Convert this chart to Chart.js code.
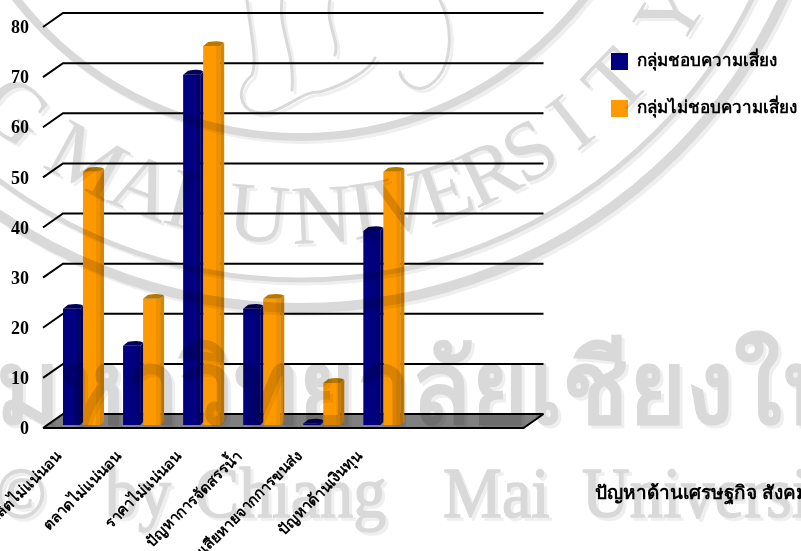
<!DOCTYPE html>
<html><head><meta charset="utf-8">
<script src="https://cdn.jsdelivr.net/npm/chart.js@4"></script>
<style>html,body{margin:0;padding:0;background:#fff;overflow:hidden}canvas{display:block}</style>
</head><body>
<canvas id="c" width="801" height="551"></canvas>
<script>
const categories = ["ผลผลิตไม่แน่นอน","ตลาดไม่แน่นอน","ราคาไม่แน่นอน","ปัญหาการจัดสรรน้ำ","ความเสียหายจากการขนส่ง","ปัญหาด้านเงินทุน","",""];
const riskLovers = [23.2,15.8,69.9,23.2,0.3,38.7,null,null];
const riskAverse = [50.5,25.2,75.6,25.2,8.4,50.5,null,null];
const seriesNames = ["กลุ่มชอบความเสี่ยง","กลุ่มไม่ชอบความเสี่ยง"];
const axisTitle = "ปัญหาด้านเศรษฐกิจ สังคม";
const wmThai = "มหาวิทยาลัยเชียงใหม่";
const wmLatin = [["©",-4],["by",105],["Chiang",195],["Mai",443],["University",582]];
const sealLetters = [..."GMAIUNIVERSITY"];
const sealAngles = [-40.4,-29,-20.9,-15.7,-5.4,2.8,8.3,13.4,19.3,25.5,31.5,38,46,57.6];
const THAI = '"Liberation Serif","Noto Sans CJK SC","Noto Sans","DejaVu Sans",serif';

const shades = [
 {mid:'#00006e',side:'#000060',cap:'#00005a',d:3},
 {mid:'#f09000',side:'#d98500',cap:'#b87800',d:4}
];

function watermark(){
 const cv=document.createElement('canvas'); cv.width=801; cv.height=551;
 const x=cv.getContext('2d');
 x.fillStyle='#fff'; x.fillRect(0,0,801,551);
 const draw=(col,dx,dy)=>{
  x.save(); x.translate(dx,dy);
  x.fillStyle=col; x.strokeStyle=col;
  const cx=300, cy=-224;
  [[361,8],[504,5],[532,10]].forEach(([r,w])=>{ x.lineWidth=w; x.beginPath(); x.arc(cx,cy,r,0,Math.PI*2); x.stroke(); });
  x.font='84px "Liberation Serif",serif'; x.textAlign='center'; x.textBaseline='alphabetic';
  const R=467;
  sealLetters.forEach((ch,i)=>{
   const th=sealAngles[i]*Math.PI/180;
   x.save(); x.translate(cx+R*Math.sin(th),cy+R*Math.cos(th)); x.rotate(-th); x.fillText(ch,0,0); x.restore();
  });
  x.lineWidth=3; x.lineCap='round';
  x.beginPath(); x.moveTo(247,0); x.bezierCurveTo(250,30,258,60,252,75); x.bezierCurveTo(235,90,240,108,255,112); x.bezierCurveTo(280,118,300,90,320,92); x.bezierCurveTo(345,85,370,70,375,58); x.stroke();
  x.beginPath(); x.moveTo(282,0); x.bezierCurveTo(278,30,295,50,292,90); x.stroke();
  x.beginPath(); x.moveTo(330,0); x.bezierCurveTo(325,25,340,40,335,55); x.stroke();
  x.beginPath(); x.moveTo(440,0); x.bezierCurveTo(455,30,452,70,430,85); x.bezierCurveTo(415,95,400,80,400,72); x.stroke();
  x.textAlign='left';
  x.save(); x.translate(-4,423); x.scale(0.96,1);
  x.font='bold 102px '+THAI; x.fillText(wmThai,0,0);
  x.restore();
  x.font='72px "Liberation Serif",serif'; x.lineWidth=1.5;
  wmLatin.forEach(([s,px])=>{x.save(); x.translate(px,517); x.scale(0.92,1); x.fillText(s,0,0); x.strokeText(s,0,0); x.restore();});
  x.restore();
 };
 draw('#efefef',3,3);
 draw('#d9d9d9',0,0);
 return cv;
}
const wmLayer = watermark();

const wall = {
 id:'wall',
 beforeDraw(c){ const x=c.ctx; x.save(); x.fillStyle='#fff'; x.fillRect(0,0,c.width,c.height); x.restore(); },
 beforeDatasetsDraw(c){
  const x=c.ctx, y=c.scales.y, a=c.chartArea;
  const fl=a.left-8.5, fr=a.right-8.5, bl=a.left+11.5, br=a.right+11.5;
  x.save();
  const y0=y.getPixelForValue(0);
  x.fillStyle='#808080';
  x.beginPath(); x.moveTo(fl,y0+3); x.lineTo(fr,y0+3); x.lineTo(br,y0-11); x.lineTo(bl,y0-11); x.closePath(); x.fill();
  x.strokeStyle='#000'; x.lineWidth=2;
  y.ticks.forEach(t=>{
   const p=y.getPixelForValue(t.value);
   x.beginPath(); x.moveTo(fl,p+3); x.lineTo(bl,p-11); x.lineTo(br,p-11); x.stroke();
  });
  x.beginPath(); x.moveTo(fl,y0+3); x.lineTo(fr,y0+3); x.lineTo(br,y0-11); x.stroke();
  x.restore();
 },
 afterDatasetDraw(c,args){
  const x=c.ctx, s=shades[args.index], vals=c.data.datasets[args.index].data, D=s.d;
  x.save();
  args.meta.data.forEach((b,i)=>{
   if(vals[i]==null)return;
   const l=b.x-b.width/2, r=b.x+b.width/2, t=b.y, bt=b.base;
   x.fillStyle=s.mid; x.fillRect(r-4,t,4,bt-t);
   x.fillStyle=s.side;
   x.beginPath(); x.moveTo(r,t); x.lineTo(r+D,t-3); x.lineTo(r+D,bt-3); x.lineTo(r,bt); x.closePath(); x.fill();
   x.fillStyle=s.cap;
   x.beginPath(); x.moveTo(l,t); x.lineTo(l+5,t-4); x.quadraticCurveTo(r,t-6,r+D,t-3); x.lineTo(r,t); x.closePath(); x.fill();
  });
  x.restore();
 },
 afterLayout(c){
  const g=c.legend; if(!g)return;
  g.left=611-30; g.top=53-30; g.right=801; g.bottom=551;
 },
 afterDraw(c){
  const x=c.ctx;
  x.save();
  x.globalCompositeOperation='multiply';
  x.drawImage(wmLayer,0,0);
  x.restore();
  x.save();
  x.fillStyle='#000'; x.font='bold 19px '+THAI; x.textAlign='left'; x.textBaseline='middle';
  x.fillText(axisTitle,595,494);
  x.restore();
 }
};

new Chart(document.getElementById('c'),{
 type:'bar',
 data:{labels:categories,datasets:[
  {label:seriesNames[0],data:riskLovers,backgroundColor:'#000080'},
  {label:seriesNames[1],data:riskAverse,backgroundColor:'#ff9900'}
 ]},
 plugins:[wall],
 options:{
  responsive:false,animation:false,
  layout:{padding:{left:0,top:24,right:269,bottom:0}},
  datasets:{bar:{categoryPercentage:2/3,barPercentage:0.85,borderWidth:0}},
  scales:{
   x:{grid:{display:false},border:{display:false},
      afterFit(s){s.height=126;s.paddingLeft=0;s.paddingRight=0;},
      ticks:{autoSkip:false,minRotation:45,maxRotation:45,labelOffset:-22,padding:15,color:'#000',font:{family:THAI,size:15,weight:'bold'}}},
   y:{min:0,max:80,grid:{display:false},border:{display:false},
      afterFit(s){s.width=51.5;s.paddingTop=0;s.paddingBottom=0;},
      ticks:{stepSize:10,padding:14.5,labelOffset:4.5,color:'#000',font:{family:'"Liberation Serif",serif',size:18,weight:'bold'}}}
  },
  plugins:{
   tooltip:{enabled:false},title:{display:false},
   legend:{position:'chartArea',align:'start',labels:{boxWidth:17,boxHeight:17,padding:30,color:'#000',font:{family:THAI,size:17,weight:'bold'}}}
  }
 }
});
</script>
</body></html>
